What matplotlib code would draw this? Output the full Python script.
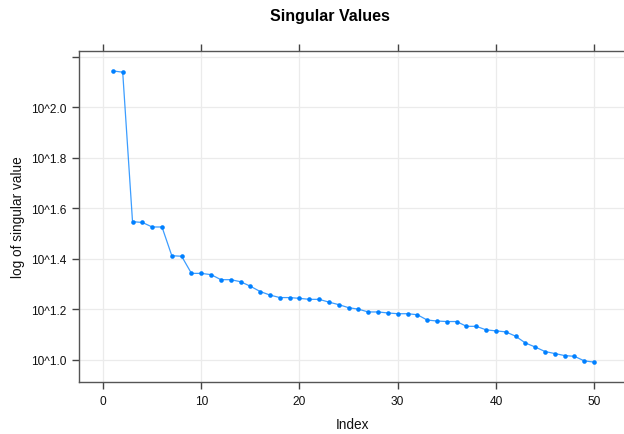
import matplotlib
matplotlib.use("Agg")
import matplotlib.pyplot as plt

plt.rcParams['font.family'] = ['Liberation Sans', 'DejaVu Sans']

index = list(range(1, 51))
log_sv = [2.145, 2.140, 1.547, 1.544, 1.526, 1.526, 1.412, 1.410, 1.342, 1.342,
          1.337, 1.317, 1.317, 1.309, 1.291, 1.270, 1.256, 1.246, 1.246, 1.243,
          1.239, 1.239, 1.228, 1.218, 1.206, 1.200, 1.189, 1.189, 1.185, 1.182,
          1.182, 1.178, 1.157, 1.153, 1.151, 1.151, 1.132, 1.132, 1.118, 1.114,
          1.110, 1.093, 1.066, 1.050, 1.032, 1.024, 1.016, 1.013, 0.995, 0.990]

x_ticks = [0, 10, 20, 30, 40, 50]
y_ticks = [1.0, 1.2, 1.4, 1.6, 1.8, 2.0, 2.2]
y_labels = ["10^1.0", "10^1.2", "10^1.4", "10^1.6", "10^1.8", "10^2.0", ""]

W, H = 624, 435
fig = plt.figure(figsize=(W / 100, H / 100), dpi=100)
ax = fig.add_axes([79 / W, (H - 383.3) / H, (628 - 79) / W, (383.3 - 52) / H])

ax.plot(index, log_sv, color='#1a8cff', lw=0.9, alpha=0.85, zorder=3)
ax.plot(index, log_sv, 'o', color='#0080ff', ms=3.3, mec='none', zorder=4)

ax.set_xlim(-2.45, 53.45)
ax.set_ylim(0.910, 2.224)
ax.set_xticks(x_ticks)
ax.set_yticks(y_ticks)
ax.set_yticklabels(y_labels)
ax.grid(True, color='#ebebeb', lw=0.9, zorder=0)
ax.set_axisbelow(True)

for s in ax.spines.values():
    s.set_color('#555555')
    s.set_linewidth(1.0)
ax.spines['right'].set_visible(False)

ax.tick_params(direction='out', length=5, width=1, color='#444444',
               labelsize=8.6, labelcolor='#111111', pad=4,
               top=True, right=False, labeltop=False, labelright=False)

fig.text(330 / W, 1 - 16 / H, "Singular Values", ha='center', va='center',
         fontsize=11.5, fontweight='bold', color='#000000')
fig.text(352.5 / W, 1 - 425 / H, "Index", ha='center', va='center',
         fontsize=9.8, color='#111111')
fig.text(18 / W, 1 - 217.6 / H, "log of singular value", ha='center', va='center',
         rotation=90, fontsize=9.8, color='#111111')

fig.savefig("out.png", dpi=100)
